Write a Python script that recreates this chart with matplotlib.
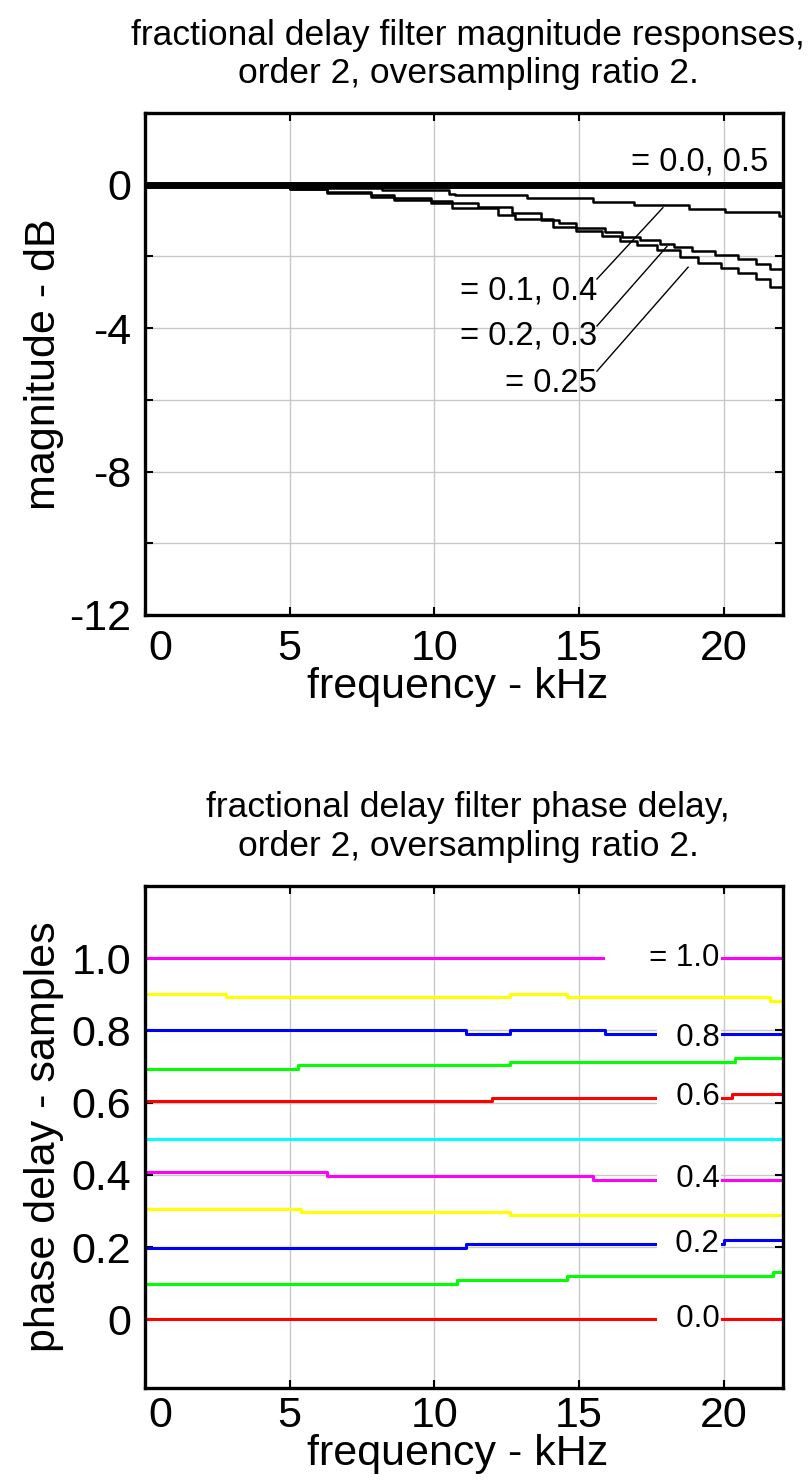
import matplotlib
matplotlib.use("Agg")
import matplotlib.pyplot as plt
import matplotlib.transforms as mtransforms

plt.rcParams['font.family'] = ['Liberation Sans', 'DejaVu Sans']

# ---- magnitude responses (dB) ----
f_top = 22.05
mag0_f = [0, f_top]
mag0_v = [0.0, 0.0]

mag1_f = [0, 5.0, 8.2, 10.5, 10.7, 13.2, 15.5, 16.9, 18.8, 20.05, 21.9, f_top]
mag1_v = [0, -0.10, -0.15, -0.25, -0.28, -0.37, -0.48, -0.57, -0.68, -0.77, -0.86, -0.88]

mag2_f = [0, 5.0, 6.3, 7.8, 8.6, 9.9, 10.6, 11.5, 12.7, 13.7, 14.3, 14.9, 15.9,
          16.5, 17.1, 17.8, 18.3, 18.9, 19.7, 20.5, 21.1, 21.6, f_top]
mag2_v = [0, -0.11, -0.20, -0.30, -0.38, -0.45, -0.52, -0.62, -0.80, -0.98, -1.08,
          -1.22, -1.33, -1.47, -1.55, -1.66, -1.75, -1.85, -1.95, -2.08, -2.22, -2.35, -2.45]

mag3_f = [0, 5.0, 6.3, 7.8, 8.6, 9.9, 10.6, 12.2, 12.8, 14.1, 14.9, 15.8, 16.4,
          17.0, 17.7, 18.5, 19.1, 19.9, 20.5, 21.1, 21.6, f_top]
mag3_v = [0, -0.11, -0.22, -0.33, -0.42, -0.50, -0.65, -0.84, -0.97, -1.18, -1.28,
          -1.42, -1.57, -1.68, -1.82, -2.02, -2.17, -2.33, -2.47, -2.63, -2.85, -3.05]

# ---- phase delay (samples) ----
pd00_f, pd00_v = [0, f_top], [0.0, 0.0]
pd01_f, pd01_v = [0, 10.8, 14.6, 21.7, f_top], [0.099, 0.110, 0.119, 0.131, 0.131]
pd02_f, pd02_v = [0, 11.1, 20.0, f_top], [0.199, 0.208, 0.219, 0.219]
pd03_f, pd03_v = [0, 5.4, 12.6, f_top], [0.307, 0.298, 0.288, 0.288]
pd04_f, pd04_v = [0, 6.3, 15.5, f_top], [0.407, 0.397, 0.387, 0.387]
pd05_f, pd05_v = [0, f_top], [0.5, 0.5]
pd06_f, pd06_v = [0, 12.0, 20.3, f_top], [0.605, 0.614, 0.623, 0.623]
pd07_f, pd07_v = [0, 5.3, 12.6, 20.4, f_top], [0.693, 0.703, 0.712, 0.725, 0.725]
pd08_f, pd08_v = [0, 11.1, 12.6, 15.9, f_top], [0.802, 0.791, 0.802, 0.791, 0.791]
pd09_f, pd09_v = [0, 2.8, 12.6, 14.6, 21.6, f_top], [0.902, 0.892, 0.902, 0.892, 0.882, 0.882]
pd10_f, pd10_v = [0, f_top], [1.0, 1.0]

pd_colors = ['#ff0000', '#00ff00', '#0000ff', '#ffff00', '#ff00ff', '#00ffff']

xticks = [0, 5, 10, 15, 20]
mag_ticks = [2, 0, -2, -4, -6, -8, -10, -12]
mag_ticklabels = ['', '0', '', '-4', '', '-8', '', '-12']
pd_ticks = [0, 0.2, 0.4, 0.6, 0.8, 1.0]
pd_ticklabels = ['0', '0.2', '0.4', '0.6', '0.8', '1.0']

W, H = 811, 1483
fig = plt.figure(figsize=(W / 100, H / 100), dpi=100)
ax1 = fig.add_axes([145 / W, 1 - 615 / H, 638 / W, 502 / H])
ax2 = fig.add_axes([145 / W, 1 - 1388 / H, 638 / W, 502 / H])

grid_kw = dict(color='#c8c8c8', linewidth=1.0)


def style_axes(ax, pad, xlab_y):
    ax.set_xlim(0, f_top)
    ax.set_xticks(xticks)
    ax.set_xticklabels([str(t) for t in xticks])
    ax.grid(True, **grid_kw)
    ax.set_axisbelow(True)
    ax.tick_params(direction='in', length=6, width=1.5, top=True, right=True,
                   labelsize=31)
    ax.tick_params(axis='x', pad=pad)
    ax.tick_params(axis='y', pad=10)
    for s in ax.spines.values():
        s.set_linewidth(2.4)
    # the "0" tick label sits a little to the right of the spine
    off = mtransforms.ScaledTranslation(15 / 100, 0, fig.dpi_scale_trans)
    lab = ax.get_xticklabels()[0]
    lab.set_transform(lab.get_transform() + off)
    ax.set_xlabel('frequency - kHz', fontsize=31)
    ax.xaxis.set_label_coords(0.49, xlab_y)
    ax.yaxis.set_label_coords(-0.127, 0.5)


# ---- top: magnitude ----
ax1.plot(mag3_f, mag3_v, drawstyle='steps-post', color='black', linewidth=1.8)
ax1.plot(mag2_f, mag2_v, drawstyle='steps-post', color='black', linewidth=1.8)
ax1.plot(mag1_f, mag1_v, drawstyle='steps-post', color='black', linewidth=1.8)
ax1.plot(mag0_f, mag0_v, color='black', linewidth=5)
ax1.set_ylim(-12, 2)
ax1.set_yticks(mag_ticks)
ax1.set_yticklabels(mag_ticklabels)
style_axes(ax1, 10, -0.103)
ax1.set_ylabel('magnitude - dB', fontsize=31)

lab_kw = dict(fontsize=23.5, ha='right', va='center')
ax1.text(21.53, 0.64, '= 0.0, 0.5', **lab_kw)
ax1.text(15.62, -2.96, '= 0.1, 0.4', **lab_kw)
ax1.text(15.62, -4.22, '= 0.2, 0.3', **lab_kw)
ax1.text(15.62, -5.53, '= 0.25', **lab_kw)
ax1.plot([15.62, 17.9], [-2.63, -0.64], color='black', linewidth=1.0)
ax1.plot([15.62, 18.04], [-3.94, -1.72], color='black', linewidth=1.0)
ax1.plot([15.62, 18.77], [-5.2, -2.3], color='black', linewidth=1.0)

title_kw = dict(ha='center', va='baseline', fontsize=25.5)
fig.text(468 / W, 1 - 45.5 / H, 'fractional delay filter magnitude responses,', **title_kw)
fig.text(468 / W, 1 - 82.5 / H, 'order 2, oversampling ratio 2.', **title_kw)

# ---- bottom: phase delay ----
pd_series = [(pd00_f, pd00_v), (pd01_f, pd01_v), (pd02_f, pd02_v), (pd03_f, pd03_v),
             (pd04_f, pd04_v), (pd05_f, pd05_v), (pd06_f, pd06_v), (pd07_f, pd07_v),
             (pd08_f, pd08_v), (pd09_f, pd09_v), (pd10_f, pd10_v)]
for i, (f, v) in enumerate(pd_series):
    ax2.plot(f, v, drawstyle='steps-post', color=pd_colors[i % 6], linewidth=2.2)
ax2.set_ylim(-0.19, 1.2)
ax2.set_yticks(pd_ticks)
ax2.set_yticklabels(pd_ticklabels)
style_axes(ax2, 5.5, -0.091)
ax2.set_ylabel('phase delay - samples', fontsize=31)

box = dict(facecolor='white', edgecolor='none', pad=1)
pd_kw = dict(fontsize=22.5, ha='right', va='center', bbox=box, zorder=5)
ax2.text(19.85, 1.0, '     = 1.0', **pd_kw)
ax2.text(19.85, 0.78, '  0.8', **pd_kw)
ax2.text(19.85, 0.616, '  0.6', **pd_kw)
ax2.text(19.85, 0.39, '  0.4', **pd_kw)
ax2.text(19.85, 0.209, '  0.2', **pd_kw)
ax2.text(19.85, 0.0, '  0.0', **pd_kw)

fig.text(468 / W, 1 - 817.5 / H, 'fractional delay filter phase delay,', **title_kw)
fig.text(468 / W, 1 - 855.5 / H, 'order 2, oversampling ratio 2.', **title_kw)

fig.savefig('out.png', dpi=100)
